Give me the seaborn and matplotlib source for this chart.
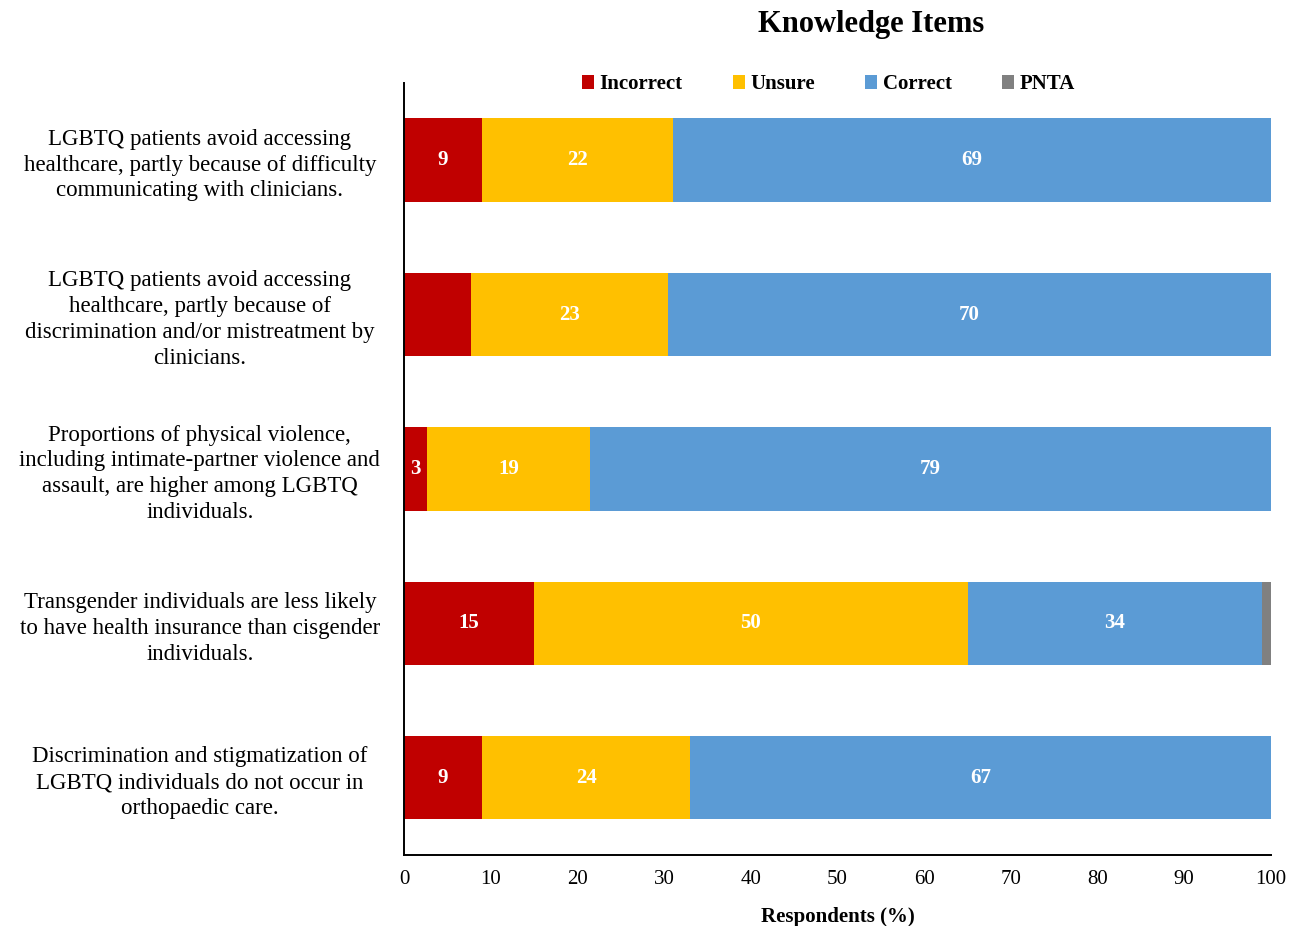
import numpy as np
import pandas as pd
import matplotlib
matplotlib.use("Agg")
import matplotlib.pyplot as plt
from matplotlib.patches import Patch
import seaborn as sns

# Survey knowledge items and response shares (%)
items = [
    "LGBTQ patients avoid accessing\nhealthcare, partly because of difficulty\ncommunicating with clinicians.",
    "LGBTQ patients avoid accessing\nhealthcare, partly because of\ndiscrimination and/or mistreatment by\nclinicians.",
    "Proportions of physical violence,\nincluding intimate-partner violence and\nassault, are higher among LGBTQ\nindividuals.",
    "Transgender individuals are less likely\nto have health insurance than cisgender\nindividuals.",
    "Discrimination and stigmatization of\nLGBTQ individuals do not occur in\northopaedic care.",
]
incorrect = [9, 7.7, 2.7, 15, 9]
unsure = [22, 22.7, 18.7, 50, 24]
correct = [69, 69.6, 78.6, 34, 67]
pnta = [0, 0, 0, 1, 0]

series_names = ["Incorrect", "Unsure", "Correct", "PNTA"]
series_colors = ["#C00000", "#FFC000", "#5B9BD5", "#808080"]
# which segments carry a value label
incorrect_labeled = [True, False, True, True, True]
unsure_labeled = [True] * 5
correct_labeled = [True] * 5
pnta_labeled = [False] * 5

sns.set_style("white")
plt.rcParams["font.family"] = ["Liberation Serif", "DejaVu Serif"]
plt.rcParams["text.color"] = "black"
plt.rcParams["axes.labelcolor"] = "black"
plt.rcParams["xtick.color"] = "black"
plt.rcParams["ytick.color"] = "black"

df = pd.DataFrame({"item": items, "Incorrect": incorrect, "Unsure": unsure,
                   "Correct": correct, "PNTA": pnta})
cum = df[series_names].cumsum(axis=1)

fig = plt.figure(figsize=(12.92, 9.26), dpi=100)
ax = fig.add_axes([0.3127, 0.0767, 0.6710, 0.8337])

# stacked bars: draw cumulative totals from the outermost segment inward
for name, color in reversed(list(zip(series_names, series_colors))):
    sns.barplot(data=cum.assign(item=items), x=name, y="item", color=color,
                saturation=1, width=0.54, orient="h", ax=ax, linewidth=0,
                order=items)

labels_on = [incorrect_labeled, unsure_labeled, correct_labeled, pnta_labeled]
for s, name in enumerate(series_names):
    for i in range(len(items)):
        v = df[name][i]
        if not labels_on[s][i] or v <= 0:
            continue
        left = cum[name][i] - v
        ax.text(left + v / 2, i, f"{v:.0f}", ha="center", va="center",
                color="white", fontsize=15, fontweight="bold")

ax.set_xlim(0, 100)
ax.set_ylim(len(items) - 0.5, -0.5)
ax.set_xticks(np.arange(0, 101, 10))
ax.set_xlabel("Respondents (%)", fontsize=15, fontweight="bold", labelpad=13)
ax.set_ylabel("")
for side in ["top", "right"]:
    ax.spines[side].set_visible(False)
for side in ["left", "bottom"]:
    ax.spines[side].set_color("black")
    ax.spines[side].set_linewidth(1.4)
ax.tick_params(axis="x", direction="in", length=6, width=1.3, labelsize=15,
               pad=11, colors="black")
ax.tick_params(axis="y", length=0, pad=147, labelsize=16.5)
for lab in ax.get_yticklabels():
    lab.set_ha("center")
    lab.set_multialignment("center")
    lab.set_linespacing(1.3)

fig.text(0.674, 0.974, "Knowledge Items", ha="center", va="center",
         fontsize=22, fontweight="bold")

handles = [Patch(facecolor=c, edgecolor="none", label=n)
           for n, c in zip(series_names, series_colors)]
fig.legend(handles=handles, loc="center", bbox_to_anchor=(0.641, 0.909),
           ncol=4, frameon=False, handlelength=0.6, handleheight=0.6,
           handletextpad=0.25, columnspacing=2.4,
           prop={"size": 15, "weight": "bold"})

fig.savefig("out.png", dpi=100)
